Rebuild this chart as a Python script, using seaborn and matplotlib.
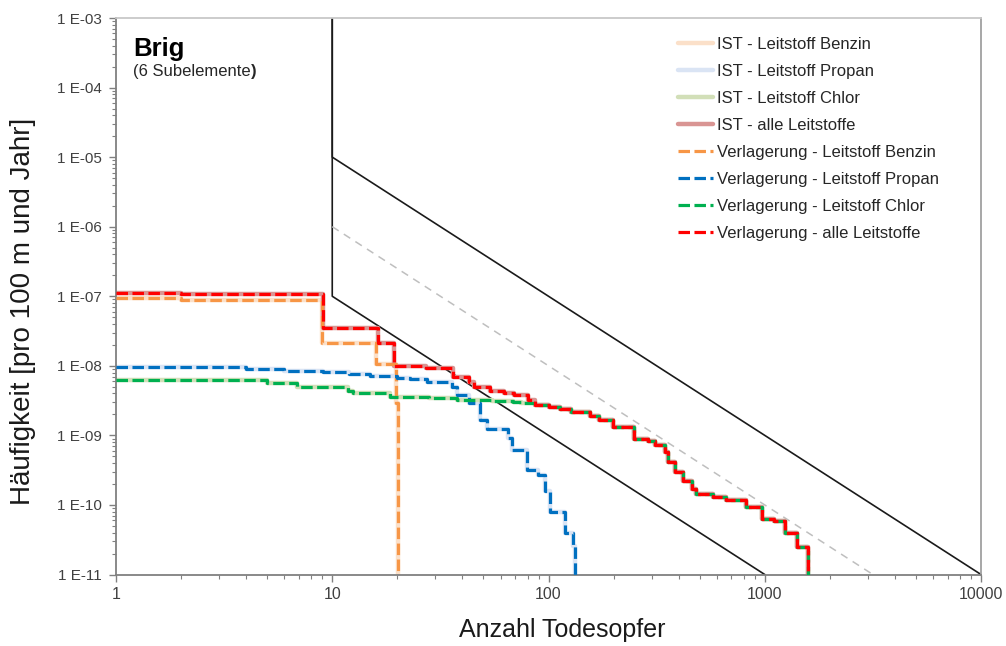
import numpy as np
import pandas as pd
import matplotlib
matplotlib.use("Agg")
import matplotlib.pyplot as plt
from matplotlib.ticker import LogLocator, FuncFormatter, NullFormatter
import seaborn as sns

# step curves: value holds from n[i] to n[i+1]
benzin_n = [1, 2, 9.0, 16.0, 19.7, 20.1]
benzin_f = [9.3e-8, 8.8e-8, 2.1e-8, 1.05e-8, 2.9e-9, 1e-12]

propan_n = [1, 4, 6, 9.1, 12, 15, 20, 23, 27.3, 35.7, 37.6, 43.1, 48.1, 51.9, 65, 67.5,
            79.3, 89.4, 96.3, 101.6, 119, 130, 133]
propan_f = [9.6e-9, 8.9e-9, 8.5e-9, 8.1e-9, 7.6e-9, 7.1e-9, 6.7e-9, 6.5e-9, 5.9e-9, 5.0e-9,
            3.8e-9, 2.9e-9, 1.65e-9, 1.25e-9, 9.3e-10, 6.2e-10, 3.2e-10, 2.7e-10, 1.6e-10,
            7.8e-11, 3.9e-11, 2.6e-11, 1e-12]

# common tail of chlor and all substances (chlor dominates at large N)
tail_n = [87, 100, 113, 127, 155, 172, 199, 249, 290, 311, 347, 357, 383, 420, 460, 481,
          578, 664, 823, 966, 1100, 1240, 1415, 1580, 1590]
tail_f = [2.7e-9, 2.55e-9, 2.4e-9, 2.2e-9, 1.9e-9, 1.65e-9, 1.3e-9, 8.9e-10, 8.3e-10, 7.2e-10,
          5.8e-10, 4.1e-10, 3.0e-10, 2.2e-10, 1.7e-10, 1.45e-10, 1.3e-10, 1.16e-10, 9.3e-11,
          6.3e-11, 5.9e-11, 3.9e-11, 2.5e-11, 1.6e-11, 1e-12]

chlor_n = [1, 4, 5, 6.85, 11.8, 12.5, 18.5, 28, 37.6, 55, 68.5, 75] + tail_n
chlor_f = [6.3e-9, 6.2e-9, 5.6e-9, 5.0e-9, 4.4e-9, 4.1e-9, 3.6e-9, 3.5e-9, 3.25e-9, 3.1e-9,
           3.0e-9, 2.9e-9] + tail_f

alle_n = [1, 2, 9.1, 16.2, 19.4, 27, 36, 43, 45, 53.5, 62, 69, 80] + tail_n
alle_f = [1.12e-7, 1.06e-7, 3.45e-8, 2.15e-8, 1.0e-8, 9.2e-9, 6.9e-9, 5.9e-9, 5.0e-9, 4.4e-9,
          4.1e-9, 3.8e-9, 3.2e-9] + tail_f

# acceptability boundaries
grenze_oben_n = [10, 10, 10000]
grenze_oben_f = [1e-3, 1e-5, 1e-11]
grenze_unten_n = [10, 10, 1000]
grenze_unten_f = [1e-3, 1e-7, 1e-11]
grenze_mitte_n = [10, 3162]
grenze_mitte_f = [1e-6, 1e-11]

stoffe = ["Leitstoff Benzin", "Leitstoff Propan", "Leitstoff Chlor", "alle Leitstoffe"]
kurven = [(benzin_n, benzin_f), (propan_n, propan_f), (chlor_n, chlor_f), (alle_n, alle_f)]
ist_farben = ["#fbe0c9", "#dae4f4", "#d2dfb8", "#d99593"]
verl_farben = ["#f79646", "#0070c0", "#00b050", "#ff0000"]

sns.set_theme(style="white")
plt.rcParams["font.family"] = ["Liberation Sans", "DejaVu Sans"]

fig = plt.figure(figsize=(10.06, 6.46), dpi=100)
ax = fig.add_axes([116 / 1006, 1 - 574.5 / 646, 865 / 1006, 556.5 / 646])

for (n, f), name, col in zip(kurven, stoffe, ist_farben):
    sns.lineplot(x=n, y=f, ax=ax, sort=False, estimator=None, drawstyle="steps-post",
                 color=col, lw=3.2, label=f"IST - {name}", zorder=2)
for (n, f), name, col in zip(kurven, stoffe, verl_farben):
    sns.lineplot(x=n, y=f, ax=ax, sort=False, estimator=None, drawstyle="steps-post",
                 color=col, lw=2.3, linestyle=(0, (3.6, 1.4)), label=f"Verlagerung - {name}",
                 zorder=3)

sns.lineplot(x=grenze_oben_n, y=grenze_oben_f, ax=ax, sort=False, estimator=None,
             color="#1a1a1a", lw=1.2, zorder=1)
sns.lineplot(x=grenze_unten_n, y=grenze_unten_f, ax=ax, sort=False, estimator=None,
             color="#1a1a1a", lw=1.2, zorder=1)
sns.lineplot(x=grenze_mitte_n, y=grenze_mitte_f, ax=ax, sort=False, estimator=None,
             color="#bfbfbf", lw=1.1, linestyle=(0, (5, 4)), zorder=1)

ax.set_xscale("log")
ax.set_yscale("log")
ax.set_xlim(1, 10000)
ax.set_ylim(1e-11, 1e-3)

ax.yaxis.set_major_locator(LogLocator(base=10, numticks=20))
ax.yaxis.set_minor_locator(LogLocator(base=10, subs=np.arange(2, 10), numticks=20))
ax.yaxis.set_major_formatter(FuncFormatter(lambda v, p: f"1 E-{int(round(-np.log10(v))):02d}"))
ax.yaxis.set_minor_formatter(NullFormatter())
ax.xaxis.set_major_locator(LogLocator(base=10, numticks=10))
ax.xaxis.set_minor_locator(LogLocator(base=10, subs=np.arange(2, 10), numticks=10))
ax.xaxis.set_major_formatter(FuncFormatter(lambda v, p: f"{int(round(v))}"))
ax.xaxis.set_minor_formatter(NullFormatter())
ax.xaxis.get_offset_text().set_visible(False)
ax.yaxis.get_offset_text().set_visible(False)

ax.tick_params(which="major", direction="out", length=5, width=1, color="#808080",
               labelsize=11, labelcolor="#404040", pad=5)
ax.tick_params(which="minor", direction="out", length=3, width=0.8, color="#808080")
ax.tick_params(axis="x", which="major", labelsize=11.5, pad=4)
ax.tick_params(axis="y", left=True, which="both")
ax.tick_params(axis="x", bottom=True, which="both")
for s in ax.spines.values():
    s.set_color("#808080")
    s.set_linewidth(1.3)
ax.spines["top"].set_color("#c8c8c8")
ax.spines["right"].set_color("#a0a0a0")

ax.set_xlabel("Anzahl Todesopfer", fontsize=18, color="#1a1a1a")
ax.set_ylabel("Häufigkeit [pro 100 m und Jahr]", fontsize=20, color="#1a1a1a")
ax.xaxis.set_label_coords(0.516, -0.078)
ax.yaxis.set_label_coords(-0.092, 0.4726)

t1 = ax.text(0.02, 0.966, "Brig", transform=ax.transAxes, fontsize=18.5, fontweight="bold",
             va="top", ha="left", color="black")
t2 = ax.text(0.02, 0.918, "(6 Subelemente", transform=ax.transAxes, fontsize=12,
             va="top", ha="left", color="#262626")
ax.annotate(")", xy=(1, 0), xycoords=t2, va="bottom", ha="left", fontsize=12,
            fontweight="bold", color="#262626")

leg = ax.legend(loc="upper left", bbox_to_anchor=(0.6497, 0.9658), frameon=False,
                fontsize=12, handlelength=2.1, handletextpad=0.25, labelspacing=0.72,
                borderpad=0, borderaxespad=0)
for txt in leg.get_texts():
    txt.set_color("#262626")

fig.savefig("out.png", dpi=100)
